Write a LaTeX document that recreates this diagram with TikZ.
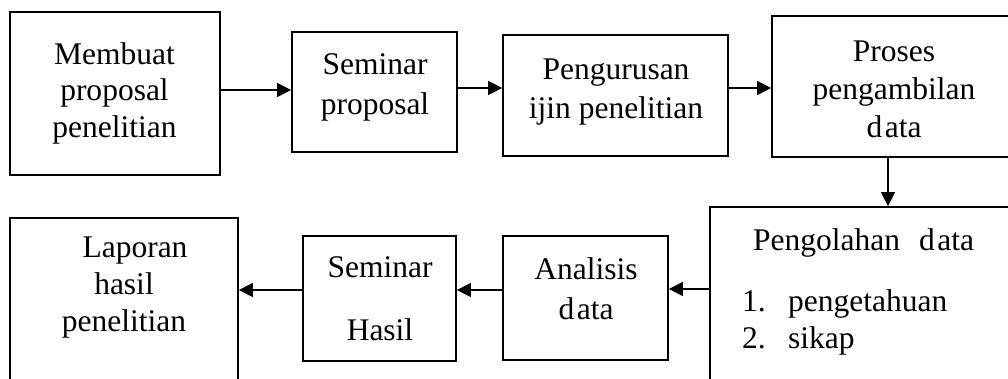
\documentclass[tikz,border=0pt]{standalone}
\usepackage{fontspec}
\setmainfont{Liberation Serif}
\usetikzlibrary{arrows.meta}
\newcommand{\dta}{d\kern2.5pt ata}
\begin{document}
\begin{tikzpicture}[x=1pt,y=-1pt,
  box/.style={draw, line width=1.7pt, rectangle, inner sep=0pt},
  txt/.style={align=center, inner sep=0pt, font=\fontsize{31.5}{38}\selectfont},
  txtw/.style={align=center, inner sep=0pt, font=\fontsize{31.5}{40}\selectfont},
  lbl/.style={anchor=base west, inner sep=0pt, font=\fontsize{31.5}{38}\selectfont},
  arr/.style={line width=1.2pt, -{Triangle[length=14pt,width=14pt]}}]
\useasboundingbox (0,0) rectangle (1008,378);
\fill[white] (0,0) rectangle (1008,378);
\clip (0,0) rectangle (1008,378);
% boxes
\node[box, minimum width=210pt, minimum height=163pt] (m1) at (115,93.5) {};
\node[box, minimum width=165pt, minimum height=120pt] (m2) at (374.5,92) {};
\node[box, minimum width=225pt, minimum height=121pt] (m3) at (615.5,95.5) {};
\node[box, minimum width=244pt, minimum height=141pt] (m4) at (894,86.5) {};
\node[box, minimum width=310pt, minimum height=213pt] (p5) at (865,313.5) {};
\node[box, minimum width=165pt, minimum height=124pt] (an) at (585.5,298) {};
\node[box, minimum width=153pt, minimum height=125pt] (sh) at (379.5,298.5) {};
\node[box, minimum width=228pt, minimum height=202pt] (lp) at (124,319) {};
% texts
\node[font=\fontsize{31.5}{36.5}\selectfont, align=center, inner sep=0pt] (m1t) at (114.5,93.2) {Membuat\\proposal\\penelitian};
\node[txtw] (m2t) at (375,87.7) {Seminar\\proposal};
\node[font=\fontsize{31.5}{39}\selectfont, align=center, inner sep=0pt] (m3t) at (616,92.4) {Pengurusan\\ijin penelitian};
\node[txt] (m4t) at (894,89.5) {Proses\\pengambilan\\\dta};
\node[lbl] (p5t) at (753,250) {Pengolahan\hspace{0.6em}\dta};
\node[lbl] (p5n1) at (742,311) {1.};
\node[lbl] (p5a) at (788,311) {pengetahuan};
\node[lbl] (p5n2) at (742,348) {2.};
\node[lbl] (p5b) at (788,348) {sikap};
\node[txtw] (ant) at (586,288.3) {Analisis\\\dta};
\node[txt] (sht) at (380,298.7) {Seminar\\[24.4pt]Hasil};
\node[font=\fontsize{31.5}{37}\selectfont, align=center, inner sep=0pt] (lpt) at (124,288) {\hspace*{22pt}Laporan\\hasil\\penelitian};
% connectors
\coordinate (c1) at ([yshift=3.5pt]m1.east);
\draw[arr] (c1) -- (c1 -| m2.west);
\coordinate (c2) at ([yshift=4pt]m2.east);
\draw[arr] (c2) -- (c2 -| m3.west);
\coordinate (c3) at ([yshift=7.5pt]m3.east);
\draw[arr] (c3) -- (c3 -| m4.west);
\coordinate (c4) at ([xshift=-6pt]m4.south);
\draw[arr] (c4) -- (c4 |- p5.north);
\coordinate (c5) at ([yshift=9pt]an.east);
\draw[arr] (c5 -| p5.west) -- (c5);
\coordinate (c6) at ([yshift=8.5pt]sh.east);
\draw[arr] (c6 -| an.west) -- (c6);
\coordinate (c7) at ([yshift=8.5pt]sh.west);
\draw[arr] (c7) -- (c7 -| lp.east);
\end{tikzpicture}
\end{document}
